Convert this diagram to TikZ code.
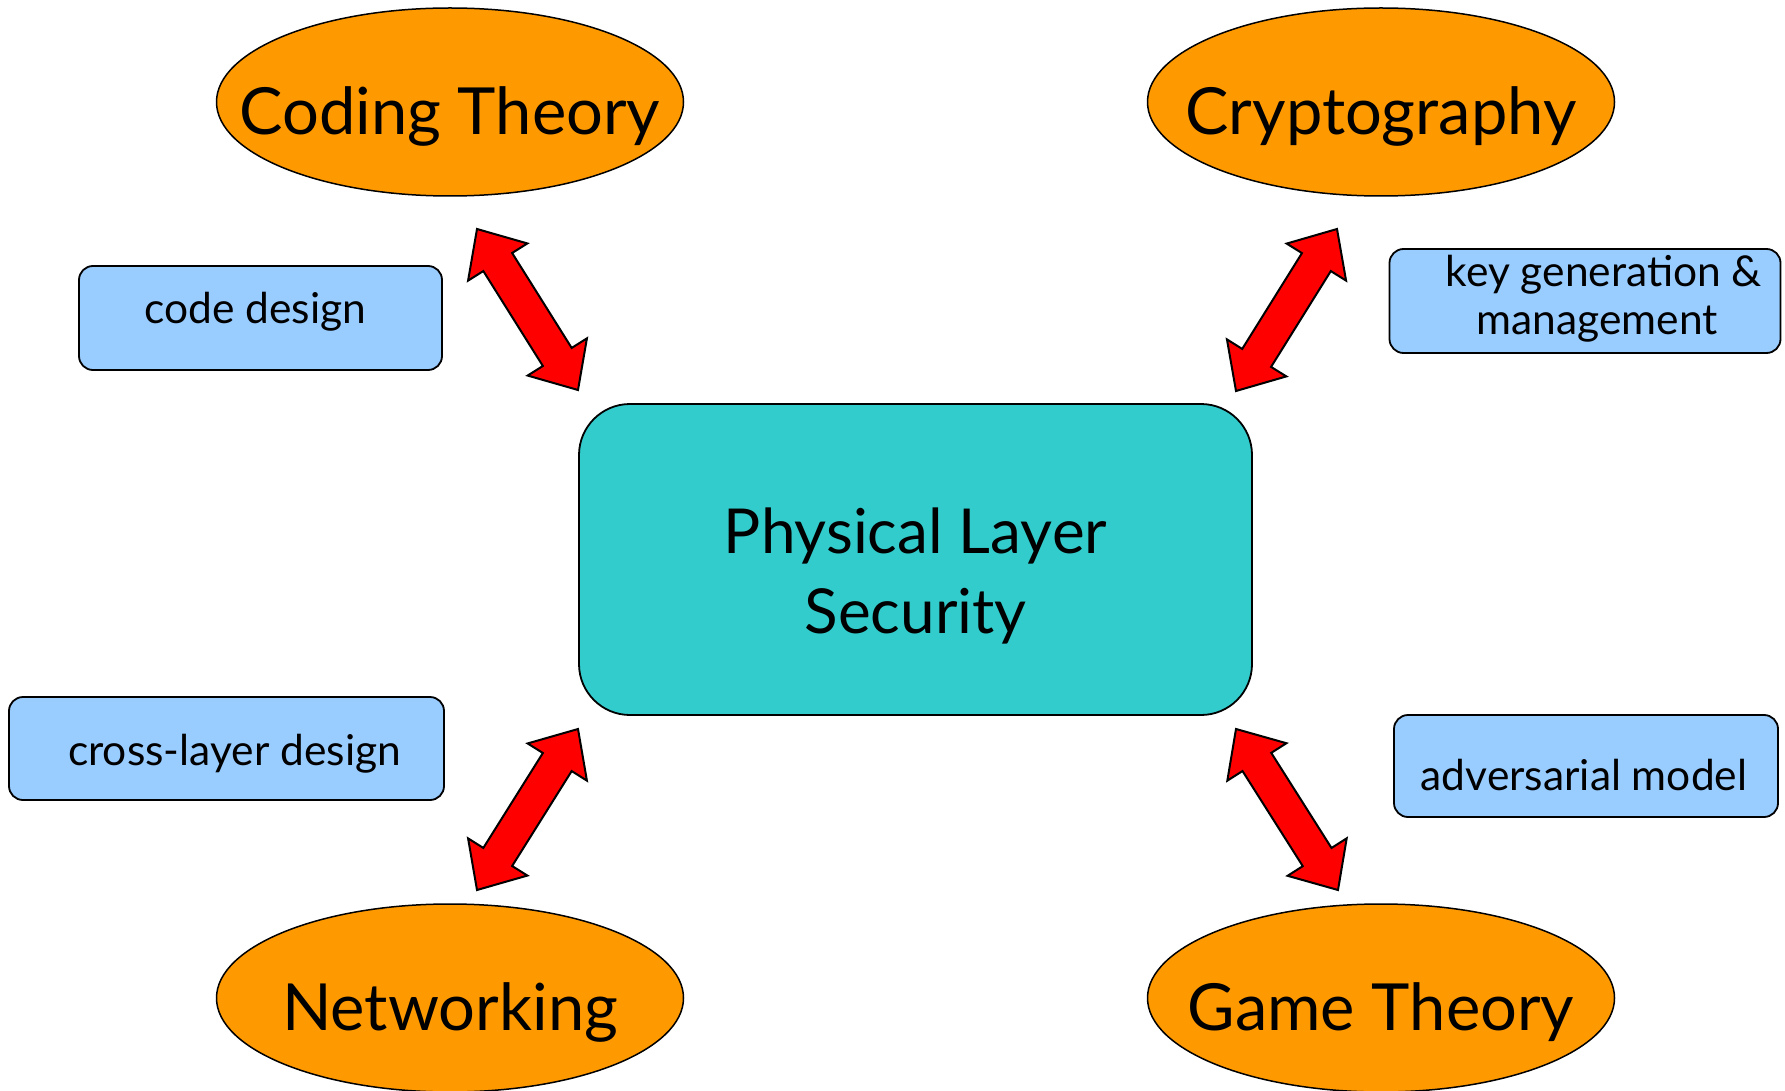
\documentclass[tikz,border=0pt]{standalone}
\usepackage{fontspec}
\setmainfont{Lato}
\usetikzlibrary{shapes.geometric,calc}
\definecolor{orng}{RGB}{255,153,0}
\definecolor{coreteal}{RGB}{51,204,204}
\definecolor{tagblue}{RGB}{153,204,255}
\newcommand\twoway[2]{%
 \draw[link] (#1)
  -- ($($(#1)!39pt!(#2)$)!35pt!90:(#2)$)
  -- ($($(#1)!39pt!(#2)$)!17pt!90:(#2)$)
  -- ($($(#2)!39pt!(#1)$)!17pt!-90:(#1)$)
  -- ($($(#2)!39pt!(#1)$)!35pt!-90:(#1)$)
  -- (#2)
  -- ($($(#2)!39pt!(#1)$)!35pt!90:(#1)$)
  -- ($($(#2)!39pt!(#1)$)!17pt!90:(#1)$)
  -- ($($(#1)!39pt!(#2)$)!17pt!-90:(#2)$)
  -- ($($(#1)!39pt!(#2)$)!35pt!-90:(#2)$)
  -- cycle;}
\begin{document}
\begin{tikzpicture}[x=1pt,y=-1pt,
  topic/.style={ellipse, draw=black, line width=1.5pt, fill=orng,
    minimum width=467pt, minimum height=188pt, inner sep=0pt},
  topictext/.style={font=\fontsize{65}{70}\selectfont, text=black, inner sep=0pt, yshift=-14pt},
  core/.style={rectangle, rounded corners=51pt, draw=black, line width=1.8pt, fill=coreteal,
    minimum width=673pt, minimum height=311pt, inner sep=0pt},
  coretext/.style={align=center, font=\fontsize{62}{80}\selectfont, inner sep=0pt, yshift=-16pt},
  tagbox/.style={rectangle, rounded corners=14pt, draw=black, line width=1.8pt, fill=tagblue, inner sep=0pt},
  tagtext/.style={align=center, font=\fontsize{42.5}{48}\selectfont, inner sep=0pt},
  link/.style={draw=black, line width=2pt, fill=red, line join=miter}
]
\useasboundingbox (0,0) rectangle (1785,1091);

\node[topic, label={[topictext]center:Coding Theory}] (ct) at (450,102) {};
\node[topic, label={[topictext]center:Cryptography}] (cr) at (1381,102) {};
\node[topic, label={[topictext]center:Networking}] (nw) at (450,998) {};
\node[topic, label={[topictext]center:Game Theory}] (gt) at (1381,998) {};

\node[core, label={[coretext]center:Physical Layer\\Security}] (pls) at (915.5,559.5) {};

\node[tagbox, minimum width=363pt, minimum height=104pt,
  label={[tagtext, xshift=-5pt, yshift=6pt]center:code design}] (cd) at (260.5,318) {};
\node[tagbox, minimum width=391pt, minimum height=104pt,
  label={[tagtext, xshift=12pt, yshift=2pt]center:\hspace*{14pt}key generation \&\\management}] (kg) at (1585,301) {};
\node[tagbox, minimum width=435pt, minimum height=103pt,
  label={[tagtext, xshift=8pt, yshift=-5pt]center:cross-layer design}] (cl) at (226.5,748.5) {};
\node[tagbox, minimum width=384pt, minimum height=102pt,
  label={[tagtext, xshift=-2pt, yshift=-9pt]center:adversarial model}] (am) at (1586,766) {};

\coordinate (a1) at (477,229);
\coordinate (b1) at (578,390);
\coordinate (a2) at (1337,229);
\coordinate (b2) at (1236,391);
\coordinate (a3) at (578,729);
\coordinate (b3) at (477,890);
\coordinate (a4) at (1236,729);
\coordinate (b4) at (1338,890);

\twoway{a1}{b1}
\twoway{a2}{b2}
\twoway{a3}{b3}
\twoway{a4}{b4}
\end{tikzpicture}
\end{document}
